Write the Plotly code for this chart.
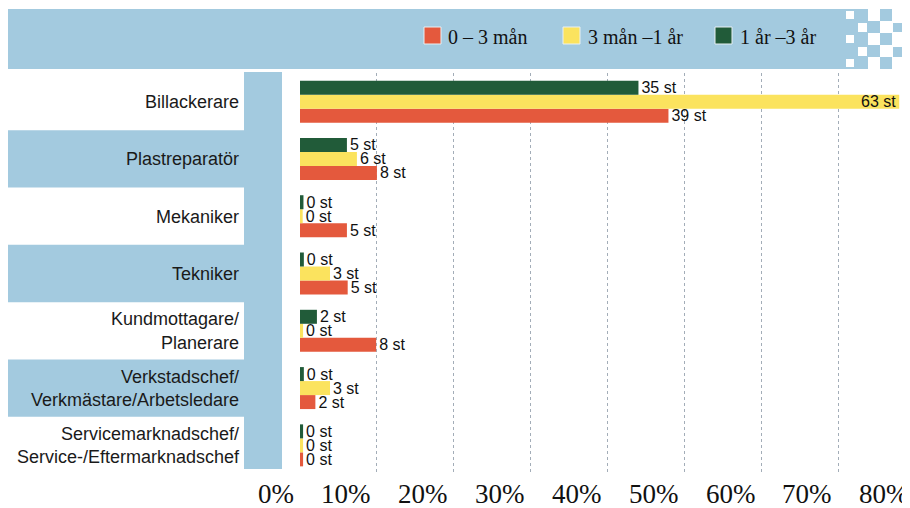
import plotly.graph_objects as go

# categories, top to bottom
categories = [
    "Billackerare",
    "Plastreparatör",
    "Mekaniker",
    "Tekniker",
    "Kundmottagare/<br>Planerare",
    "Verkstadschef/<br>Verkmästare/Arbetsledare",
    "Servicemarknadschef/<br>Service-/Eftermarknadschef",
]

series_names = ["0 – 3 mån", "3 mån –1 år", "1 år –3 år"]

# share of respondents (%)
pct_0_3m = [47.9, 10.0, 6.1, 6.2, 9.9, 2.0, 0.4]
pct_3m_1y = [77.9, 7.4, 0.35, 3.9, 0.4, 3.9, 0.4]
pct_1y_3y = [44.0, 6.1, 0.45, 0.5, 2.2, 0.5, 0.4]

# counts shown as labels
n_0_3m = [39, 8, 5, 5, 8, 2, 0]
n_3m_1y = [63, 6, 0, 3, 0, 3, 0]
n_1y_3y = [35, 5, 0, 0, 2, 0, 0]

x_ticks = [0, 10, 20, 30, 40, 50, 60, 70, 80]

RED = '#e4593d'
YELLOW = '#fbe35e'
GREEN = '#215b39'
BLUE = '#a3cadf'
colors = [RED, YELLOW, GREEN]

# page body adds an 8px margin, so the figure is 8px smaller than the window
OFF = 8
W, H = 902, 500
L, R, T, B = 292, 0, 65, 34
XMAX = 79.3


# helpers: window pixel -> paper coordinate
def px(x):
    return (x - OFF - L) / (W - L - R)


def py(y):
    return (H - B - (y - OFF)) / (H - T - B)


fig = go.Figure()

series = [(pct_0_3m, n_0_3m), (pct_3m_1y, n_3m_1y), (pct_1y_3y, n_1y_3y)]
for i, (vals, counts) in enumerate(series):
    # the long yellow bar carries its label inside
    positions = ['inside' if v > 70 else 'outside' for v in vals]
    fig.add_trace(go.Bar(
        y=categories,
        x=vals,
        orientation='h',
        name=series_names[i],
        marker=dict(color=colors[i], line=dict(width=0)),
        text=[f"{c} st" for c in counts],
        textposition=positions,
        insidetextanchor='end',
        constraintext='none',
        textfont=dict(family='Liberation Sans, Arial', size=16, color='#111'),
        showlegend=False,
        hoverinfo='skip',
    ))

shapes = []
# header band
shapes.append(dict(type='rect', xref='paper', yref='paper', layer='below',
                   x0=px(8), x1=px(868), y0=py(69), y1=py(9),
                   fillcolor=BLUE, line=dict(width=0)))
# decorative checker pattern at the right end of the header
white_sq = [(846, 11, 854, 19), (846, 35, 854, 43), (846, 59, 854, 67),
            (858, 23, 867, 32), (858, 47, 867, 56)]
blue_sq = [(867, 21, 880, 33), (867, 45, 880, 57),
           (880, 9, 892, 21), (880, 33, 892, 45), (880, 57, 892, 69),
           (893, 23, 903, 32), (893, 47, 903, 57),
           (907, 11, 915, 19), (907, 35, 915, 43), (907, 59, 915, 67)]
for x0, y0, x1, y1 in white_sq:
    shapes.append(dict(type='rect', xref='paper', yref='paper',
                       x0=px(x0), x1=px(x1), y0=py(y1), y1=py(y0),
                       fillcolor='white', line=dict(width=0)))
for x0, y0, x1, y1 in blue_sq:
    shapes.append(dict(type='rect', xref='paper', yref='paper',
                       x0=px(x0), x1=px(x1), y0=py(y1), y1=py(y0),
                       fillcolor=BLUE, line=dict(width=0)))
# alternating row bands behind labels
for cat in categories[1::2]:
    idx = len(categories) - 1 - categories.index(cat)
    shapes.append(dict(type='rect', xref='paper', yref='y', layer='below',
                       x0=px(8), x1=px(282), y0=idx - 0.5, y1=idx + 0.5,
                       fillcolor=BLUE, line=dict(width=0)))
# vertical strip between labels and plot
shapes.append(dict(type='rect', xref='paper', yref='paper', layer='below',
                   x0=px(244), x1=px(282), y0=py(469), y1=py(72),
                   fillcolor=BLUE, line=dict(width=0)))

# legend drawn by hand inside the header band
legend_sq_x = [424, 563, 715]
legend_txt_x = [446, 586, 738]
annotations = []
for i, name in enumerate(series_names):
    shapes.append(dict(type='rect', xref='paper', yref='paper',
                       x0=px(legend_sq_x[i]), x1=px(legend_sq_x[i] + 17),
                       y0=py(44), y1=py(27),
                       fillcolor=colors[i], line=dict(color='#e8f0f4', width=1)))
    annotations.append(dict(text=name, xref='paper', yref='paper',
                            x=px(legend_txt_x[i]), y=py(37), xanchor='left', yanchor='middle',
                            showarrow=False,
                            font=dict(family='Liberation Serif, Times New Roman', size=20, color='#111')))

# x tick labels sit just left of their gridline
for t in x_ticks:
    annotations.append(dict(text=f"{t}%", xref='paper', yref='paper',
                            x=t / XMAX, y=py(494), xanchor='right', yanchor='middle',
                            xshift=-4, showarrow=False,
                            font=dict(family='Liberation Serif, Times New Roman', size=27, color='#111')))

fig.update_layout(
    width=W, height=H,
    margin=dict(l=L, r=R, t=T, b=B),
    paper_bgcolor='white',
    plot_bgcolor='white',
    barmode='group',
    bargap=0.267,
    bargroupgap=0,
    shapes=shapes,
    annotations=annotations,
    xaxis=dict(range=[0, XMAX], dtick=10, showgrid=True, griddash='dot',
               gridcolor='#a3adb8', gridwidth=1, zeroline=False,
               showticklabels=False, showline=False, fixedrange=True),
    yaxis=dict(categoryorder='array', categoryarray=list(reversed(categories)),
               showgrid=False, zeroline=False, ticks='', ticklabelstandoff=60,
               tickfont=dict(family='Liberation Sans, Arial', size=18, color='#1a1a1a'),
               fixedrange=True),
)

fig.write_html("out.html", config={'displayModeBar': False})
